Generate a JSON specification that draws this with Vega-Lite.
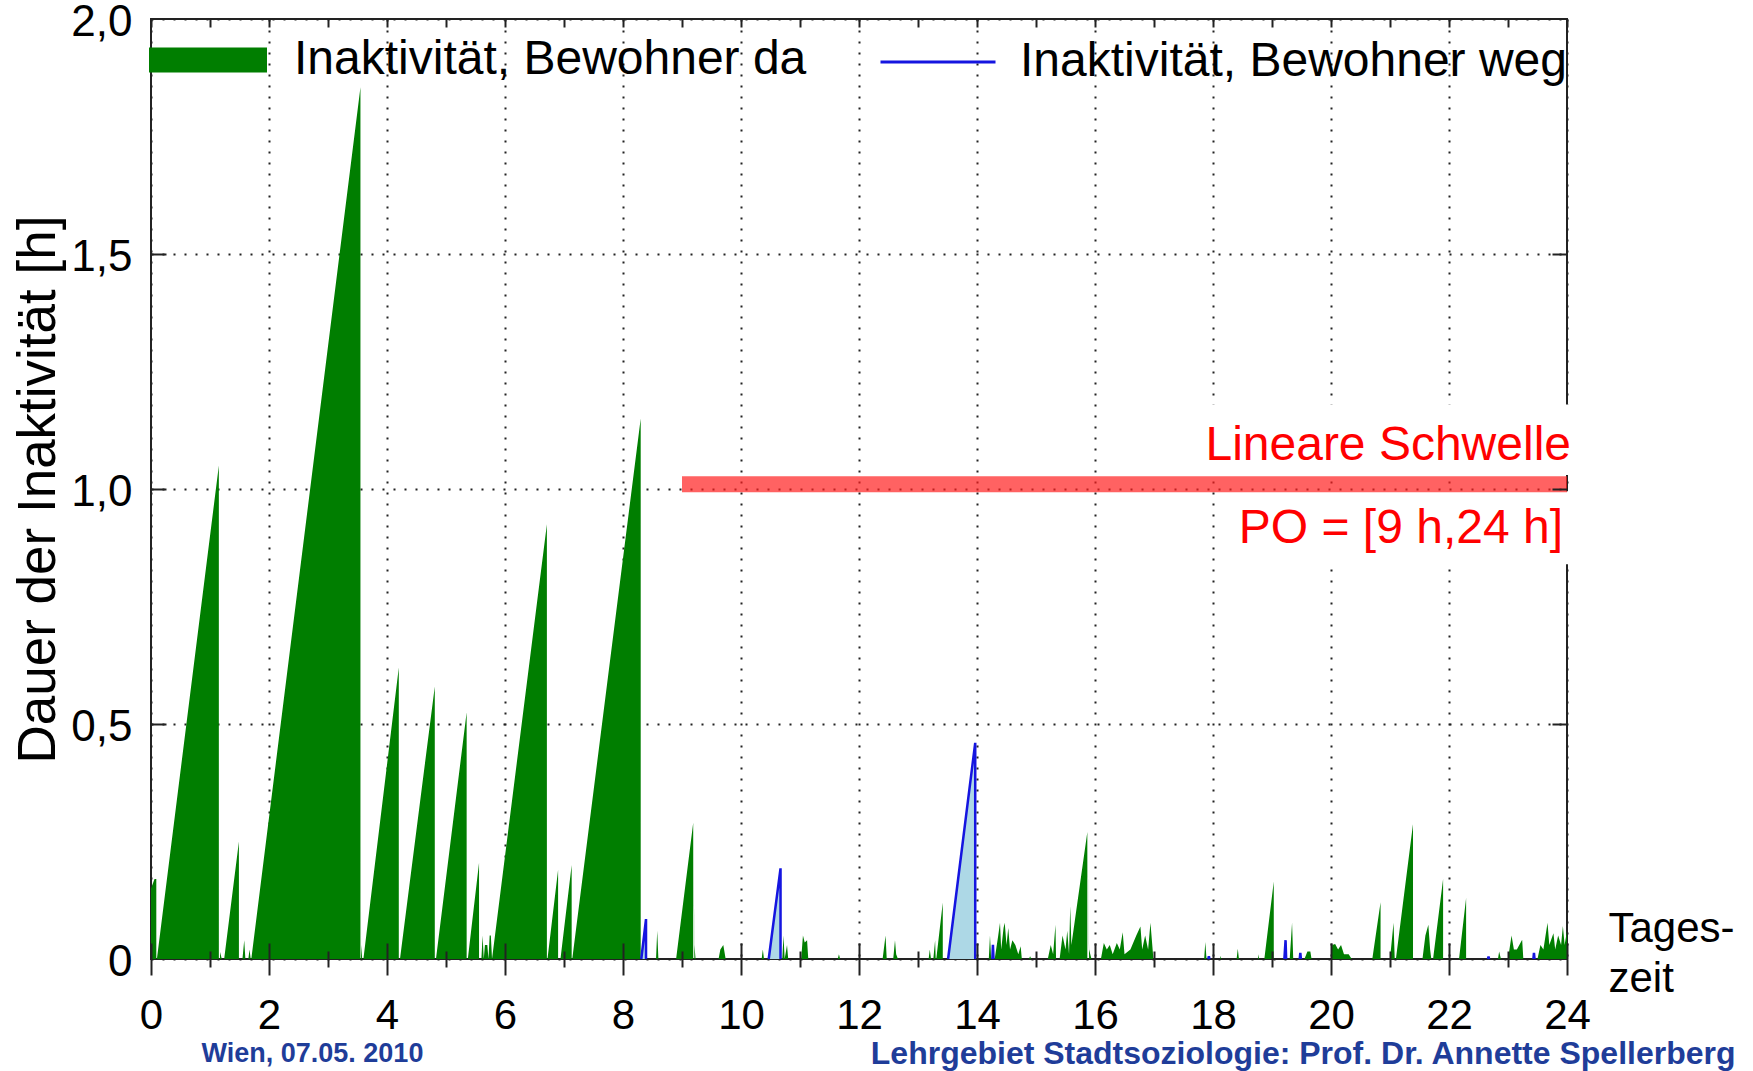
{
  "$schema": "https://vega.github.io/schema/vega-lite/v6.json",
  "width": 1416,
  "height": 940,
  "autosize": {"type": "none"},
  "padding": {"left": 151, "top": 19, "right": 186, "bottom": 112},
  "background": "white",
  "config": {
    "font": "Liberation Sans",
    "view": {"stroke": "#222222", "strokeWidth": 2},
    "axis": {"domain": false, "labelColor": "black", "titleColor": "black", "tickColor": "#222222", "tickWidth": 2, "labelFlush": false, "labelOverlap": false}
  },
  "datasets": {
    "da": [
      {"t":0,"v":0.15},{"t":0.06,"v":0.17},{"t":0.09,"v":0.17},{"t":0.09,"v":0},
      {"t":0.1,"v":0},{"t":1.15,"v":1.05},{"t":1.15,"v":0},
      {"t":1.17,"v":0.015},{"t":1.2,"v":0},
      {"t":1.24,"v":0},{"t":1.49,"v":0.25},{"t":1.49,"v":0},
      {"t":1.55,"v":0},{"t":1.58,"v":0.04},{"t":1.6,"v":0},{"t":1.65,"v":0},{"t":1.67,"v":0.02},{"t":1.69,"v":0},
      {"t":1.7,"v":0},{"t":3.55,"v":1.855},{"t":3.55,"v":0},
      {"t":3.56,"v":0.03},{"t":3.58,"v":0},
      {"t":3.6,"v":0},{"t":4.2,"v":0.62},{"t":4.2,"v":0},
      {"t":4.22,"v":0},{"t":4.81,"v":0.58},{"t":4.81,"v":0},
      {"t":4.83,"v":0},{"t":5.35,"v":0.525},{"t":5.35,"v":0},
      {"t":5.37,"v":0},{"t":5.56,"v":0.205},{"t":5.56,"v":0},
      {"t":5.6,"v":0},{"t":5.62,"v":0.05},{"t":5.64,"v":0},{"t":5.66,"v":0.03},{"t":5.7,"v":0.03},{"t":5.72,"v":0},{"t":5.74,"v":0.05},{"t":5.76,"v":0.05},
      {"t":5.78,"v":0},{"t":6.71,"v":0.925},{"t":6.71,"v":0},
      {"t":6.72,"v":0},{"t":6.9,"v":0.19},{"t":6.9,"v":0},
      {"t":6.94,"v":0},{"t":7.13,"v":0.2},{"t":7.13,"v":0},
      {"t":7.14,"v":0},{"t":8.3,"v":1.15},{"t":8.3,"v":0},
      {"t":8.56,"v":0},{"t":8.58,"v":0.06},{"t":8.6,"v":0},
      {"t":8.9,"v":0},{"t":9.19,"v":0.29},{"t":9.19,"v":0},{"t":9.21,"v":0.03},{"t":9.23,"v":0},
      {"t":9.62,"v":0},{"t":9.65,"v":0.02},{"t":9.7,"v":0.03},{"t":9.74,"v":0},
      {"t":10.35,"v":0},{"t":10.37,"v":0.02},{"t":10.39,"v":0},
      {"t":10.7,"v":0},{"t":10.72,"v":0.05},{"t":10.74,"v":0},{"t":10.78,"v":0.03},{"t":10.8,"v":0},
      {"t":11.02,"v":0},{"t":11.05,"v":0.05},{"t":11.08,"v":0.035},{"t":11.12,"v":0.04},{"t":11.14,"v":0},
      {"t":11.64,"v":0},{"t":11.66,"v":0.01},{"t":11.68,"v":0},
      {"t":12.4,"v":0},{"t":12.45,"v":0.05},{"t":12.47,"v":0},
      {"t":12.58,"v":0},{"t":12.61,"v":0.04},{"t":12.63,"v":0.01},{"t":12.66,"v":0},
      {"t":13.18,"v":0},{"t":13.2,"v":0.02},{"t":13.22,"v":0},
      {"t":13.26,"v":0},{"t":13.29,"v":0.04},{"t":13.3,"v":0},
      {"t":13.31,"v":0},{"t":13.42,"v":0.12},{"t":13.42,"v":0},
      {"t":14.2,"v":0},{"t":14.22,"v":0.05},{"t":14.24,"v":0},
      {"t":14.3,"v":0},{"t":14.36,"v":0.05},{"t":14.39,"v":0.077},{"t":14.41,"v":0.02},{"t":14.45,"v":0.066},{"t":14.47,"v":0.077},{"t":14.5,"v":0.03},{"t":14.53,"v":0.066},{"t":14.56,"v":0.02},{"t":14.6,"v":0.04},{"t":14.65,"v":0.03},{"t":14.7,"v":0.01},{"t":14.74,"v":0.027},{"t":14.76,"v":0},
      {"t":14.88,"v":0},{"t":14.9,"v":0.006},{"t":14.92,"v":0},
      {"t":15.2,"v":0},{"t":15.25,"v":0.03},{"t":15.29,"v":0.01},{"t":15.33,"v":0.073},{"t":15.34,"v":0},
      {"t":15.4,"v":0},{"t":15.45,"v":0.05},{"t":15.5,"v":0.02},{"t":15.53,"v":0.06},{"t":15.56,"v":0.01},{"t":15.58,"v":0.112},{"t":15.6,"v":0.03},
      {"t":15.87,"v":0.27},{"t":15.87,"v":0},{"t":15.9,"v":0.02},{"t":15.94,"v":0},
      {"t":16.1,"v":0},{"t":16.15,"v":0.034},{"t":16.2,"v":0.02},{"t":16.25,"v":0.03},{"t":16.3,"v":0.01},{"t":16.37,"v":0.034},{"t":16.42,"v":0.02},{"t":16.47,"v":0.057},{"t":16.5,"v":0.01},{"t":16.6,"v":0.02},{"t":16.7,"v":0.05},{"t":16.77,"v":0.069},{"t":16.8,"v":0.02},{"t":16.85,"v":0.05},{"t":16.9,"v":0.02},{"t":16.94,"v":0.077},{"t":16.99,"v":0},
      {"t":17.85,"v":0},{"t":17.87,"v":0.036},{"t":17.89,"v":0},
      {"t":18.12,"v":0},{"t":18.13,"v":0.007},{"t":18.14,"v":0},
      {"t":18.4,"v":0},{"t":18.42,"v":0.022},{"t":18.44,"v":0},
      {"t":18.76,"v":0},{"t":18.77,"v":0.01},{"t":18.78,"v":0},
      {"t":18.87,"v":0},{"t":19.03,"v":0.165},{"t":19.03,"v":0},
      {"t":19.3,"v":0},{"t":19.34,"v":0.077},{"t":19.36,"v":0},
      {"t":19.55,"v":0},{"t":19.6,"v":0.016},{"t":19.65,"v":0.016},{"t":19.67,"v":0},
      {"t":20.0,"v":0},{"t":20.02,"v":0.03},{"t":20.07,"v":0.032},{"t":20.12,"v":0.02},{"t":20.17,"v":0.03},{"t":20.22,"v":0.01},{"t":20.3,"v":0.01},{"t":20.35,"v":0},
      {"t":20.7,"v":0},{"t":20.84,"v":0.121},{"t":20.84,"v":0},
      {"t":21.0,"v":0},{"t":21.06,"v":0.077},{"t":21.08,"v":0},
      {"t":21.1,"v":0},{"t":21.39,"v":0.287},{"t":21.39,"v":0},
      {"t":21.55,"v":0},{"t":21.6,"v":0.05},{"t":21.65,"v":0.073},{"t":21.68,"v":0.02},{"t":21.7,"v":0},
      {"t":21.73,"v":0},{"t":21.9,"v":0.17},{"t":21.9,"v":0},
      {"t":22.17,"v":0},{"t":22.29,"v":0.13},{"t":22.29,"v":0},
      {"t":22.83,"v":0},{"t":22.85,"v":0.016},{"t":22.88,"v":0},
      {"t":23.0,"v":0},{"t":23.06,"v":0.05},{"t":23.1,"v":0.02},{"t":23.15,"v":0.02},{"t":23.24,"v":0.041},{"t":23.26,"v":0},
      {"t":23.5,"v":0},{"t":23.55,"v":0.03},{"t":23.6,"v":0.02},{"t":23.67,"v":0.077},{"t":23.7,"v":0.03},{"t":23.77,"v":0.055},{"t":23.8,"v":0.02},{"t":23.85,"v":0.05},{"t":23.9,"v":0.03},{"t":23.93,"v":0.07},{"t":23.96,"v":0.03},{"t":24,"v":0.06}
    ],
    "weg": [
      {"s":1,"t":8.31,"v":0},{"s":1,"t":8.39,"v":0.085},{"s":1,"t":8.39,"v":0},
      {"s":2,"t":10.47,"v":0},{"s":2,"t":10.67,"v":0.193},{"s":2,"t":10.67,"v":0},
      {"s":3,"t":13.51,"v":0},{"s":3,"t":13.97,"v":0.46},{"s":3,"t":13.97,"v":0},
      {"s":4,"t":14.26,"v":0},{"s":4,"t":14.27,"v":0.03},{"s":4,"t":14.28,"v":0},
      {"s":5,"t":17.92,"v":0},{"s":5,"t":17.93,"v":0.006},{"s":5,"t":17.94,"v":0},
      {"s":6,"t":19.21,"v":0},{"s":6,"t":19.23,"v":0.04},{"s":6,"t":19.24,"v":0},
      {"s":7,"t":19.47,"v":0},{"s":7,"t":19.48,"v":0.013},{"s":7,"t":19.49,"v":0},
      {"s":8,"t":22.66,"v":0},{"s":8,"t":22.67,"v":0.005},{"s":8,"t":22.68,"v":0},
      {"s":9,"t":23.43,"v":0},{"s":9,"t":23.44,"v":0.013},{"s":9,"t":23.45,"v":0}
    ]
  },
  "resolve": {"axis": {"x": "independent", "y": "independent"}},
  "layer": [
    {
      "data": {"name": "da"},
      "mark": {"type": "area", "interpolate": "linear"},
      "encoding": {
        "x": {"field": "t", "type": "quantitative", "scale": {"domain": [0, 24], "nice": false, "zero": false},
          "axis": {"orient": "bottom", "values": [0,2,4,6,8,10,12,14,16,18,20,22,24], "ticks": false, "labels": true,
            "labelFontSize": 42, "labelPadding": 56, "labelBaseline": "middle",
            "grid": true, "gridColor": "#222222", "gridWidth": 2, "gridDash": [2, 9], "gridOpacity": 1,
            "title": ["Tages-", "zeit"], "titleFontSize": 42, "titleFontWeight": "normal", "titleX": 1457, "titleY": -18,
            "titleAlign": "left", "titleBaseline": "alphabetic", "titleLineHeight": 50, "titleAnchor": null, "zindex": 0}},
        "y": {"field": "v", "type": "quantitative", "scale": {"domain": [0, 2], "nice": false},
          "axis": {"orient": "left", "values": [0, 0.5, 1, 1.5, 2], "ticks": false,
            "labelExpr": "datum.value == 0 ? '0' : replace(format(datum.value, '.1f'), '.', ',')",
            "labelFontSize": 44, "labelPadding": 19, "labelBaseline": "middle", "labelOffset": 3,
            "grid": true, "gridColor": "#222222", "gridWidth": 2, "gridDash": [2, 9], "gridOpacity": 1,
            "title": "Dauer der Inaktivität [h]", "titleFontSize": 53, "titleFontWeight": "normal",
            "titleAngle": -90, "titleX": -97, "titleY": 470, "titleAlign": "center", "titleBaseline": "alphabetic", "titleAnchor": null, "zindex": 0}},
        "fill": {"datum": "Inaktivität, Bewohner da", "type": "nominal",
          "scale": {"domain": ["Inaktivität, Bewohner da"], "range": ["#007e00"]},
          "legend": {"title": null, "orient": "none", "legendX": -2, "legendY": -18, "padding": 0,
            "symbolType": "M-1,-0.212H1V0.212H-1Z", "symbolSize": 13924, "symbolStrokeWidth": 0, "symbolOpacity": 1,
            "labelFontSize": 48, "labelOffset": 27, "labelLimit": 1000, "labelColor": "black"}}
      }
    },
    {
      "data": {"name": "weg"},
      "mark": {"type": "area", "interpolate": "linear", "fill": "#add8e6"},
      "encoding": {
        "x": {"field": "t", "type": "quantitative", "scale": {"domain": [0, 24], "nice": false, "zero": false},
          "axis": {"orient": "bottom", "values": [0,2,4,6,8,10,12,14,16,18,20,22,24], "labels": false, "grid": false, "ticks": true, "tickSize": 16, "title": null, "zindex": 1}},
        "y": {"field": "v", "type": "quantitative", "scale": {"domain": [0, 2], "nice": false},
          "axis": {"orient": "left", "values": [0.5, 1, 1.5], "labels": false, "grid": false, "ticks": true, "tickSize": -15, "title": null, "zindex": 1}},
        "detail": {"field": "s", "type": "nominal"}
      }
    },
    {
      "data": {"name": "weg"},
      "mark": {"type": "line", "interpolate": "linear", "strokeWidth": 2.5},
      "encoding": {
        "x": {"field": "t", "type": "quantitative", "scale": {"domain": [0, 24], "nice": false, "zero": false},
          "axis": {"orient": "bottom", "values": [0,2,4,6,8,10,12,14,16,18,20,22,24], "labels": false, "grid": false, "ticks": true, "tickSize": -16, "title": null, "zindex": 1}},
        "y": {"field": "v", "type": "quantitative", "scale": {"domain": [0, 2], "nice": false},
          "axis": {"orient": "right", "values": [0.5, 1, 1.5], "labels": false, "grid": false, "ticks": true, "tickSize": -15, "title": null, "zindex": 1}},
        "detail": {"field": "s", "type": "nominal"},
        "stroke": {"datum": "Inaktivität, Bewohner weg", "type": "nominal",
          "scale": {"domain": ["Inaktivität, Bewohner weg"], "range": ["#1515e0"]},
          "legend": {"title": null, "orient": "none", "legendX": 728, "legendY": -16, "padding": 0,
            "symbolType": "stroke", "symbolSize": 13225, "symbolStrokeWidth": 3,
            "labelFontSize": 48, "labelOffset": 23, "labelLimit": 1000, "labelColor": "black"}}
      }
    },
    {
      "data": {"values": [{}]},
      "mark": {"type": "rect", "fill": "white"},
      "encoding": {
        "x": {"datum": 17.9, "type": "quantitative", "scale": {"domain": [0, 24], "nice": false, "zero": false},
          "axis": {"orient": "bottom", "values": [1,3,5,7,9,11,13,15,17,19,21,23], "labels": false, "grid": false, "ticks": true, "tickSize": -8, "zindex": 1,
            "title": "Lehrgebiet Stadtsoziologie: Prof. Dr. Annette Spellerberg", "titleFontSize": 32, "titleFontWeight": "bold", "titleColor": "#1f3d99",
            "titleX": 1584, "titleY": 94, "titleAlign": "right", "titleBaseline": "middle", "titleAnchor": null}},
        "x2": {"datum": 24.14},
        "y": {"datum": 1.03, "type": "quantitative", "scale": {"domain": [0, 2], "nice": false}, "axis": null},
        "y2": {"datum": 1.18}
      }
    },
    {
      "data": {"values": [{}]},
      "mark": {"type": "rect", "fill": "white"},
      "encoding": {
        "x": {"datum": 18.45, "type": "quantitative", "scale": {"domain": [0, 24], "nice": false, "zero": false},
          "axis": {"orient": "top", "values": [0,1,2,3,4,5,6,7,8,9,10,11,12,13,14,15,16,17,18,19,20,21,22,23,24], "labels": false, "grid": false, "ticks": true, "tickSize": -8, "title": null, "zindex": 1}},
        "x2": {"datum": 24.14},
        "y": {"datum": 0.84, "type": "quantitative", "scale": {"domain": [0, 2], "nice": false}, "axis": null},
        "y2": {"datum": 0.995}
      }
    },
    {
      "data": {"values": [{}]},
      "mark": {"type": "rect", "fill": "#ff2020", "opacity": 0.7},
      "encoding": {
        "x": {"datum": 9, "type": "quantitative", "scale": {"domain": [0, 24], "nice": false, "zero": false},
          "axis": {"orient": "bottom", "values": [1,3,5,7,9,11,13,15,17,19,21,23], "labels": false, "grid": false, "ticks": true, "tickSize": 8, "zindex": 1,
            "title": "Wien, 07.05. 2010", "titleFontSize": 27, "titleFontWeight": "bold", "titleColor": "#1f3d99",
            "titleX": 50, "titleY": 94, "titleAlign": "left", "titleBaseline": "middle", "titleAnchor": null}},
        "x2": {"datum": 24},
        "y": {"datum": 0.993, "type": "quantitative", "scale": {"domain": [0, 2], "nice": false}, "axis": null},
        "y2": {"datum": 1.027}
      }
    },
    {
      "data": {"values": [{}]},
      "mark": {"type": "text", "text": "Lineare Schwelle", "align": "right", "baseline": "middle", "dx": 4, "fontSize": 48, "color": "#ff0000"},
      "encoding": {
        "x": {"datum": 24, "type": "quantitative", "scale": {"domain": [0, 24], "nice": false, "zero": false}, "axis": null},
        "y": {"datum": 1.092, "type": "quantitative", "scale": {"domain": [0, 2], "nice": false}, "axis": null}
      }
    },
    {
      "data": {"values": [{}]},
      "mark": {"type": "text", "text": "PO = [9 h,24 h]", "align": "right", "baseline": "middle", "dx": -4, "fontSize": 48, "color": "#ff0000"},
      "encoding": {
        "x": {"datum": 24, "type": "quantitative", "scale": {"domain": [0, 24], "nice": false, "zero": false}, "axis": null},
        "y": {"datum": 0.915, "type": "quantitative", "scale": {"domain": [0, 2], "nice": false}, "axis": null}
      }
    }
  ]
}
